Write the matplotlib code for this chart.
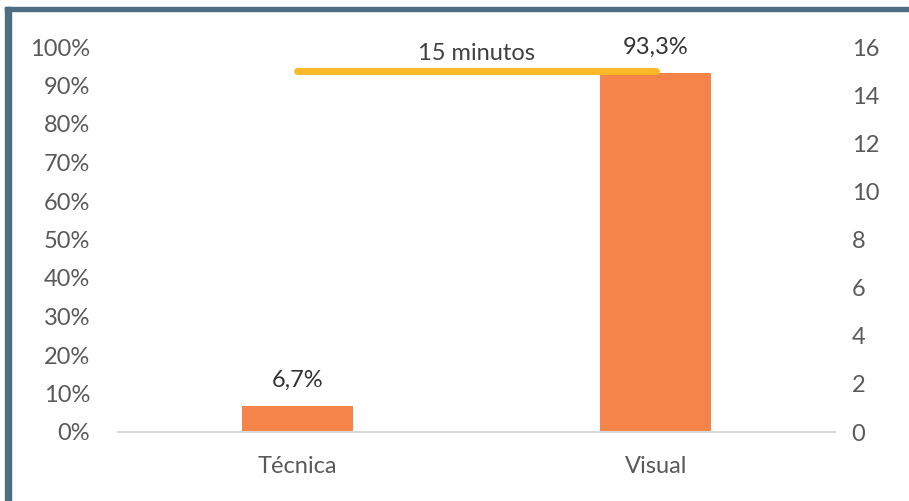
import matplotlib.pyplot as plt
from matplotlib.patches import Rectangle

plt.rcParams["font.family"] = ["Lato", "DejaVu Sans"]

categorias = ["Técnica", "Visual"]
porcentajes = [6.7, 93.3]
etiquetas = ["6,7%", "93,3%"]
minutos = [15, 15]
etiqueta_linea = "15 minutos"

naranja = "#F4844A"
amarillo = "#FBB829"
gris = "#595959"
fs = 17

fig = plt.figure(figsize=(9.09, 5.01), dpi=100)
ax = fig.add_axes([118 / 909, 1 - 432 / 501, 717 / 909, 385 / 501])
ax2 = ax.twinx()

x = [0, 1]
ax.bar(x, porcentajes, width=0.31, color=naranja, zorder=2)
for xi, v, t in zip(x, porcentajes, etiquetas):
    ax.annotate(t, (xi, v), xytext=(0, 11), textcoords="offset points",
                ha="center", va="bottom", fontsize=fs, color="#333333")

ax.set_xlim(-0.5, 1.5)
ax.set_ylim(0, 100)
ax.set_yticks(range(0, 101, 10))
ax.set_yticklabels([f"{v}%" for v in range(0, 101, 10)])
ax.set_xticks(x)
ax.set_xticklabels(categorias)

ax2.plot(x, minutos, color=amarillo, lw=5, solid_capstyle="round", zorder=3)
ax2.annotate(etiqueta_linea, (0.5, minutos[0]), xytext=(0, 5), textcoords="offset points",
             ha="center", va="bottom", fontsize=fs, color="#404040")
ax2.set_ylim(0, 16)
ax2.set_yticks(range(0, 17, 2))

for a in (ax, ax2):
    for s in a.spines.values():
        s.set_visible(False)
    a.tick_params(length=0, labelsize=fs, colors=gris)
ax.spines["bottom"].set_visible(True)
ax.spines["bottom"].set_color("#D9D9D9")
ax.spines["bottom"].set_linewidth(1.5)
ax.tick_params(axis="y", pad=20)
ax.tick_params(axis="x", pad=17)
ax2.tick_params(axis="y", pad=12)

# marco de la imagen (borde izquierdo y superior)
fig.patches.append(Rectangle((5 / 909, 0), 6 / 909, 1 - 7 / 501, transform=fig.transFigure,
                             color="#4F6D82", zorder=0))
fig.patches.append(Rectangle((5 / 909, 1 - 11 / 501), 1, 4 / 501, transform=fig.transFigure,
                             color="#4F6D82", zorder=0))

fig.savefig("out.png", dpi=100)
